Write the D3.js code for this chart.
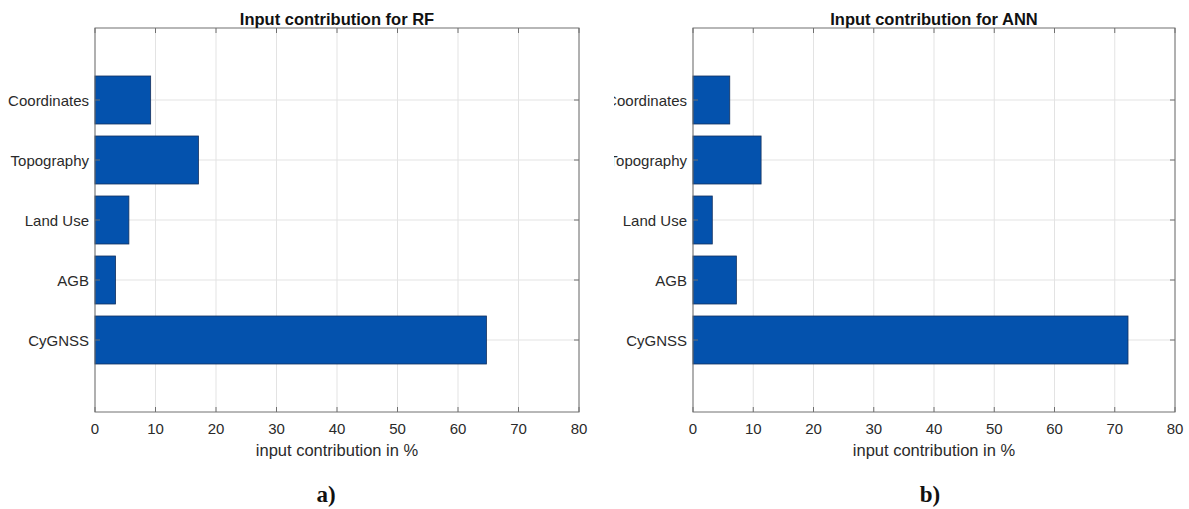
<!DOCTYPE html>
<html>
<head>
<meta charset="utf-8">
<script src="https://cdn.jsdelivr.net/npm/d3@7"></script>
<style>
  html, body { margin: 0; padding: 0; background: #fff; }
  svg { display: block; }
</style>
</head>
<body>
<svg id="chart" width="1189" height="509"></svg>
<script>
// Input categories, ordered bottom-to-top as on the y axis
const categories = ["CyGNSS", "AGB", "Land Use", "Topography", "Coordinates"];

// Contribution of each input, in percent
const rfValues  = [64.7, 3.4, 5.6, 17.1, 9.2];
const annValues = [72.2, 7.2, 3.2, 11.3, 6.1];

const xTicks = [0, 10, 20, 30, 40, 50, 60, 70, 80];
const titles = ["Input contribution for RF", "Input contribution for ANN"];
const xLabel = "input contribution in %";
const panelTags = ["a)", "b)"];

(function () {
const svg = d3.select("#chart");
const FONT = "'Liberation Sans', Arial, Helvetica, sans-serif";
const BAR_FILL = "#0452ad";
const BAR_EDGE = "#13305e";
const GRID = "#e3e3e3";
const AXIS = "#707070";
const TEXT = "#2a2a2a";

const plotTop = 28, plotBottom = 412;

const panels = [
  { left: 95,  right: 579,  values: rfValues,  title: titles[0], tag: panelTags[0], tagX: 326, clipX: 0 },
  { left: 693, right: 1175, values: annValues, title: titles[1], tag: panelTags[1], tagX: 930, clipX: 614 }
];

// the second panel is cut off on its left side
const defs = svg.append("defs");

panels.forEach((p, i) => {
  defs.append("clipPath").attr("id", "clip" + i)
    .append("rect").attr("x", p.clipX).attr("y", 0)
    .attr("width", 1189 - p.clipX).attr("height", 509);

  const g = svg.append("g").attr("clip-path", `url(#clip${i})`);

  const x = d3.scaleLinear().domain([0, 80]).range([p.left, p.right]);
  // category k sits at position k+1; limits leave a margin above and below
  const y = d3.scaleLinear().domain([-0.2, 6.2]).range([plotBottom, plotTop]);
  const pos = categories.map((c, k) => k + 1);

  // grid
  g.append("g").selectAll("line").data(xTicks).join("line")
    .attr("x1", d => x(d)).attr("x2", d => x(d))
    .attr("y1", plotTop).attr("y2", plotBottom)
    .attr("stroke", GRID).attr("stroke-width", 1);
  g.append("g").selectAll("line").data(pos).join("line")
    .attr("x1", p.left).attr("x2", p.right)
    .attr("y1", d => y(d)).attr("y2", d => y(d))
    .attr("stroke", GRID).attr("stroke-width", 1);

  // bars
  const bh = y(0) - y(0.8);
  g.append("g").selectAll("rect").data(p.values).join("rect")
    .attr("x", x(0))
    .attr("y", (d, k) => y(pos[k]) - bh / 2)
    .attr("width", d => x(d) - x(0))
    .attr("height", bh)
    .attr("fill", BAR_FILL)
    .attr("stroke", BAR_EDGE)
    .attr("stroke-width", 0.8);

  // inward ticks on all four sides
  const tl = 5;
  const tk = g.append("g").attr("stroke", AXIS).attr("stroke-width", 1);
  xTicks.forEach(t => {
    tk.append("line").attr("x1", x(t)).attr("x2", x(t)).attr("y1", plotBottom).attr("y2", plotBottom - tl);
    tk.append("line").attr("x1", x(t)).attr("x2", x(t)).attr("y1", plotTop).attr("y2", plotTop + tl);
  });
  pos.forEach(v => {
    tk.append("line").attr("x1", p.left).attr("x2", p.left + tl).attr("y1", y(v)).attr("y2", y(v));
    tk.append("line").attr("x1", p.right).attr("x2", p.right - tl).attr("y1", y(v)).attr("y2", y(v));
  });

  // box
  g.append("rect")
    .attr("x", p.left).attr("y", plotTop)
    .attr("width", p.right - p.left).attr("height", plotBottom - plotTop)
    .attr("fill", "none").attr("stroke", AXIS).attr("stroke-width", 1);

  // x tick labels
  g.append("g").selectAll("text").data(xTicks).join("text")
    .attr("x", d => x(d)).attr("y", 433.5)
    .attr("text-anchor", "middle")
    .attr("font-family", FONT).attr("font-size", 15).attr("fill", TEXT)
    .text(d => d);

  // category labels
  g.append("g").selectAll("text").data(categories).join("text")
    .attr("x", p.left - 6).attr("y", (d, k) => y(pos[k]) + 6)
    .attr("text-anchor", "end")
    .attr("font-family", FONT).attr("font-size", 15).attr("fill", TEXT)
    .text(d => d);

  // x axis label
  g.append("text")
    .attr("x", (p.left + p.right) / 2).attr("y", 456)
    .attr("text-anchor", "middle")
    .attr("font-family", FONT).attr("font-size", 16.5).attr("fill", TEXT)
    .text(xLabel);

  // title
  g.append("text")
    .attr("x", (p.left + p.right) / 2).attr("y", 24.5)
    .attr("text-anchor", "middle")
    .attr("font-family", FONT).attr("font-size", 16.5).attr("font-weight", "bold").attr("fill", "#111")
    .text(p.title);

  // panel tag
  svg.append("text")
    .attr("x", p.tagX).attr("y", 502)
    .attr("text-anchor", "middle")
    .attr("font-family", "'Liberation Serif', 'Times New Roman', serif")
    .attr("font-size", 23).attr("font-weight", "bold").attr("fill", "#111")
    .text(p.tag);
});
})();
</script>
</body>
</html>
